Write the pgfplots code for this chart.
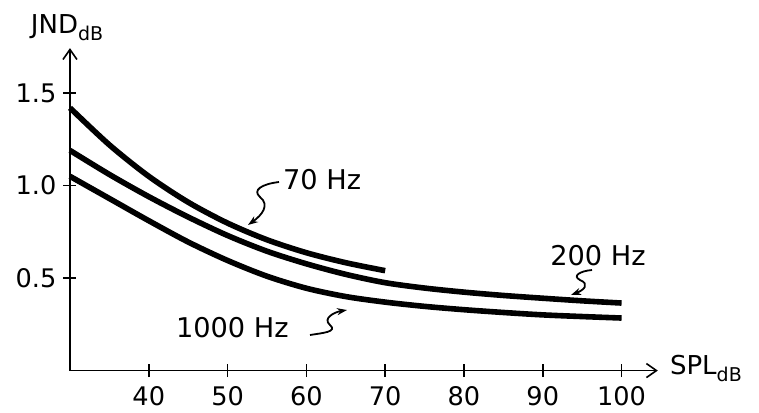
\documentclass[border=0pt]{standalone}
\usepackage{fontspec}
\setmainfont{DejaVu Sans}
\usepackage{pgfplots}
\pgfplotsset{compat=1.18}
\usetikzlibrary{arrows.meta}

% JND vs SPL, one table per curve
\pgfplotstableread{
spl jnd
30 1.42
35 1.22
40 1.05
45 0.91
50 0.797
55 0.707
60 0.637
65 0.583
70 0.54
}\seventyhz
\pgfplotstableread{
spl jnd
30 1.19
35 1.06
40 0.94
45 0.83
50 0.73
55 0.645
60 0.577
65 0.52
70 0.475
75 0.446
80 0.424
85 0.406
90 0.391
95 0.377
100 0.365
}\twohundredhz
\pgfplotstableread{
spl jnd
30 1.05
35 0.93
40 0.81
45 0.695
50 0.595
55 0.51
60 0.445
65 0.40
70 0.37
75 0.347
80 0.329
85 0.314
90 0.301
95 0.292
100 0.284
}\thousandhz

\newcommand\sub[1]{{\fontsize{9.5}{10}\selectfont\raisebox{-3.5pt}{#1}}}

\begin{document}
\begin{tikzpicture}
\begin{axis}[
  x=3.94pt, y=92.5pt,
  xmin=30, xmax=104.6, ymin=0, ymax=1.743,
  axis lines=left,
  axis line style={line width=0.8pt, -{Straight Barb[length=5pt,width=7pt,line width=0.8pt]}},
  xtick={40,50,...,100},
  ytick={0.5,1.0,1.5},
  tick align=center,
  major tick length=6.5pt,
  tick style={line width=0.8pt, black},
  ticklabel style={font=\fontsize{12.8}{14}\selectfont},
  /pgf/number format/assume math mode=true,
  yticklabel style={/pgf/number format/.cd, fixed, fixed zerofill, precision=1},
  xticklabel style={yshift=-1pt},
  clip=false,
]
\addplot[black, line width=2.8pt, smooth] table[x=spl, y=jnd] {\seventyhz};
\addplot[black, line width=2.8pt, smooth] table[x=spl, y=jnd] {\twohundredhz};
\addplot[black, line width=2.8pt, smooth] table[x=spl, y=jnd] {\thousandhz};

\node[font=\fontsize{13.6}{15}\selectfont] at (axis cs:62.0,1.03) {70 Hz};
\node[font=\fontsize{13.6}{15}\selectfont] at (axis cs:97.0,0.619) {200 Hz};
\node[font=\fontsize{13.6}{15}\selectfont] at (axis cs:50.6,0.23) {1000 Hz};

\node[anchor=west, font=\fontsize{13}{14}\selectfont, inner sep=0pt] at (axis cs:106.1,0.01) {SPL\sub{dB}};
\node[anchor=base west, font=\fontsize{13}{14}\selectfont, inner sep=0pt] at (axis cs:25.0,1.82) {JND\sub{dB}};

\coordinate (TL) at (axis cs:21.12,2.003);
\coordinate (BR) at (axis cs:117.44,-0.197);
\end{axis}

% squiggly pointer arrows, in pixel units of the reference
\begin{scope}[shift={(TL)}, x=0.5pt, y=-0.5pt, line width=0.9pt,
  -{Stealth[length=5pt,width=3.5pt]}]
\draw (279,182) .. controls (262,184) and (252,190) .. (260,197)
                .. controls (270,205) and (262,215) .. (248,225);
\draw (592,270) .. controls (580,271) and (572,276) .. (580,280)
                .. controls (590,284) and (584,290) .. (571,295);
\draw (310,335) .. controls (322,333) and (338,332) .. (330,325)
                .. controls (322,318) and (335,312) .. (347,310);
\end{scope}

\path (TL) rectangle (BR);
\end{tikzpicture}
\end{document}
